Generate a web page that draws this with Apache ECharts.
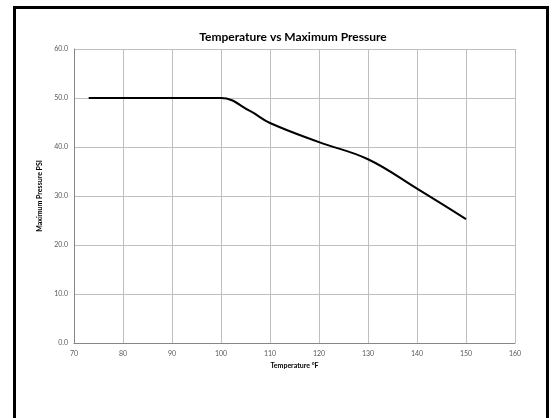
<!DOCTYPE html>
<html>
<head>
<meta charset="utf-8">
<script src="https://cdn.jsdelivr.net/npm/echarts@6/dist/echarts.min.js"></script>
<style>
  html, body { margin: 0; padding: 0; background: #fff; }
  #chart { width: 555px; height: 418px; }
</style>
</head>
<body>
<div id="chart"></div>
<script>
  // temperatures (°F) and matching max pressure (PSI)
  const temps = [73, 80, 90, 100, 106, 110, 120, 130, 140, 150];
  const pressures = [50.0, 50.0, 50.0, 50.0, 47.3, 44.9, 41.0, 37.5, 31.5, 25.3];

  const chartDom = document.getElementById("chart");
  let myChart = echarts.init(chartDom);
  let option;

  const labelStyle = { color: "#595959", fontSize: 7, fontFamily: "Lato" };

  option = {
    animation: false,
    title: {
      text: "Temperature vs Maximum Pressure",
      left: 288,
      top: 26,
      textAlign: "center",
      textStyle: { fontSize: 12, fontWeight: "bold", fontFamily: "Lato", color: "#000" },
    },
    graphic: [
      {
        type: "rect",
        shape: { x: 14.5, y: 7.5, width: 533, height: 430 },
        style: { fill: "none", stroke: "#000", lineWidth: 3 },
      },
    ],
    grid: { left: 74, right: 40, top: 49, bottom: 75 },
    xAxis: {
      type: "value",
      min: 70,
      max: 160,
      interval: 10,
      name: "Temperature °F",
      nameLocation: "middle",
      nameGap: 16,
      nameTextStyle: { fontSize: 7, fontWeight: "bold", fontFamily: "Lato", color: "#000" },
      axisLine: { lineStyle: { color: "#868686", width: 1 } },
      axisTick: { show: false },
      axisLabel: { ...labelStyle, margin: 7 },
      splitLine: { show: true, lineStyle: { color: "#bfbfbf", width: 1 } },
    },
    yAxis: {
      type: "value",
      min: 0,
      max: 60,
      interval: 10,
      name: "Maximum Pressure PSI",
      nameLocation: "middle",
      nameGap: 25,
      nameTextStyle: { fontSize: 7, fontWeight: "bold", fontFamily: "Lato", color: "#000" },
      axisLine: { show: true, lineStyle: { color: "#868686", width: 1 } },
      axisTick: { show: false },
      axisLabel: { ...labelStyle, margin: 6, formatter: (v) => v.toFixed(1) },
      splitLine: { show: true, lineStyle: { color: "#bfbfbf", width: 1 } },
    },
    series: [
      {
        type: "line",
        data: temps.map((t, i) => [t, pressures[i]]),
        smooth: 0.4,
        showSymbol: false,
        lineStyle: { color: "#000", width: 2 },
      },
    ],
  };

  option && myChart.setOption(option);
</script>
</body>
</html>
